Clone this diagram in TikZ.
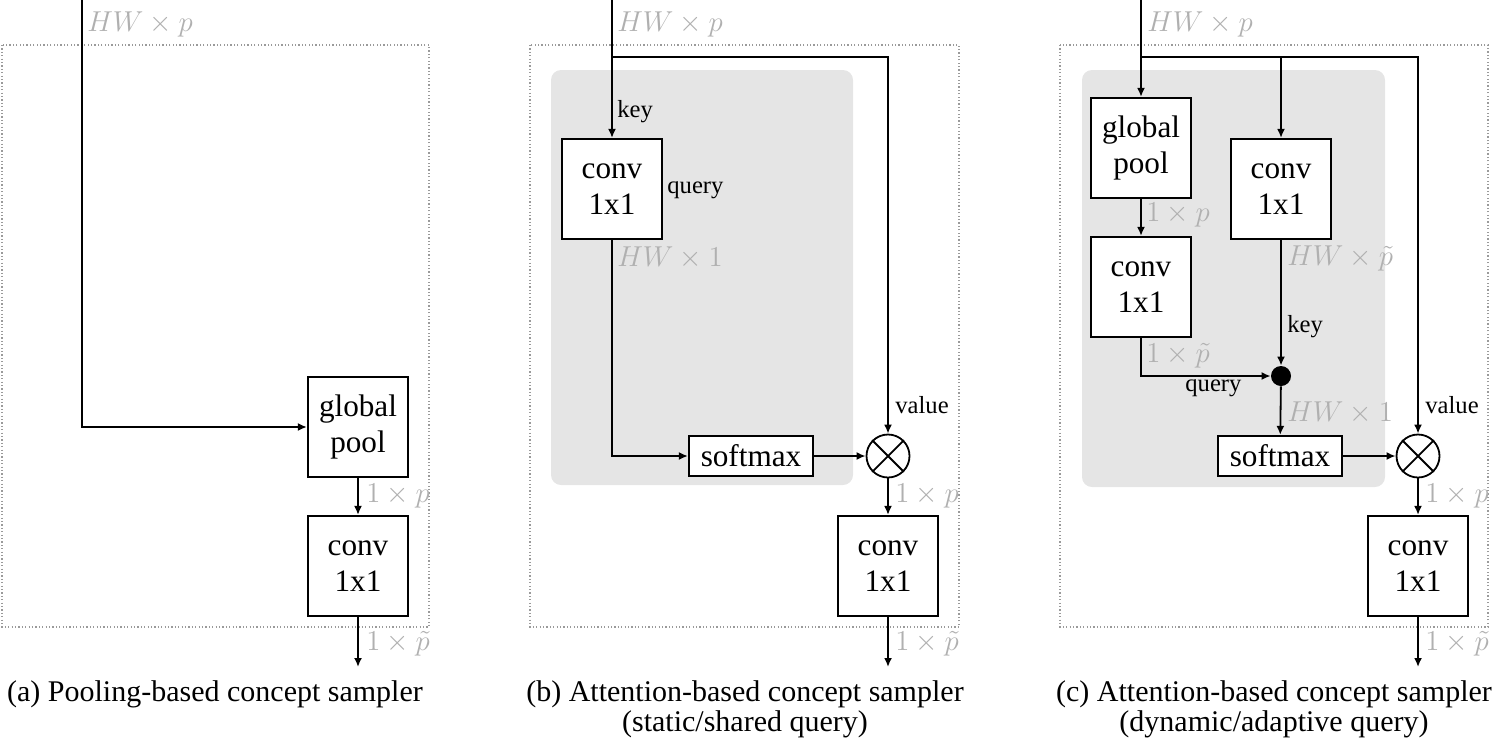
\documentclass[tikz,border=0pt]{standalone}
\usepackage{fontspec}
\setmainfont{Liberation Serif}
\definecolor{shade}{HTML}{E5E5E5}
\definecolor{faint}{HTML}{B0B0B0}
\definecolor{rim}{HTML}{9A9A9A}
\usetikzlibrary{arrows.meta,positioning,calc}
\tikzset{
  blk/.style={draw,line width=1.1pt,fill=white,align=center,minimum width=50pt,
              minimum height=50pt,inner sep=2pt,font=\fontsize{15.6}{18}\selectfont},
  smx/.style={blk,minimum width=62pt,minimum height=20pt,inner sep=0pt},
  prod/.style={draw,circle,line width=0.9pt,minimum size=21.5pt,inner sep=0pt,fill=white},
  joint/.style={circle,fill=black,minimum size=10pt,inner sep=0pt},
  arr/.style={-{Latex[length=4.5pt,width=4pt]},line width=0.9pt},
  dimlbl/.style={text=faint,font=\fontsize{13.5}{16}\selectfont,inner sep=0pt,anchor=west},
  lbl/.style={font=\fontsize{12.3}{14}\selectfont,inner sep=0pt,anchor=west},
  outer/.style={draw=rim,line width=0.6pt,dash pattern=on 0.6pt off 1.1pt},
  panel/.style={fill=shade,rounded corners=5pt},
  captxt/.style={font=\fontsize{15}{15}\selectfont,align=center,anchor=north}
}
\newcommand{\cross}[1]{\draw[line width=0.9pt] (#1.45) -- (#1.225) (#1.135) -- (#1.315);}

\begin{document}
\begin{tikzpicture}[x=0.5pt,y=-0.5pt]
  \useasboundingbox (0,0) rectangle (1497,740);

  % (a)
  \draw[outer] (2,45) rectangle (429,627);
  \node[blk] (poolA) at (358,427) {global\\pool};
  \node[blk] (convA) at (358,566) {conv\\1x1};
  \coordinate (inA) at (82,0);
  \coordinate (outA) at (358,667);
  \draw[arr] (inA) |- (poolA);
  \draw[arr] (poolA) -- (convA);
  \draw[arr] (convA) -- (outA);
  \node[dimlbl] (hwA) at (87,24) {$HW\times p$};
  \node[dimlbl] (pA) at (366,496) {$1\times p$};
  \node[dimlbl] (ptA) at (366,644) {$1\times \tilde{p}$};
  \node[captxt] (capA) at (215,674) {(a) Pooling-based concept sampler};

  % (b)
  \draw[outer] (530,45) rectangle (959,627);
  \fill[panel] (551,70) rectangle (853,485);
  \node[blk] (convB) at (612,189) {conv\\1x1};
  \node[smx] (smxB) at (751,456) {softmax};
  \node[prod] (prodB) at (888,456) {};
  \cross{prodB}
  \node[blk] (outconvB) at (888,566) {conv\\1x1};
  \coordinate (inB) at (612,0);
  \coordinate (brB) at (612,57);
  \coordinate (outB) at (888,667);
  \draw[arr] (inB) -- (convB);
  \draw[arr] (brB) -| (prodB);
  \draw[arr] (convB) |- (smxB);
  \draw[arr] (smxB) -- (prodB);
  \draw[arr] (prodB) -- (outconvB);
  \draw[arr] (outconvB) -- (outB);
  \node[dimlbl] (hwB) at (617,24) {$HW\times p$};
  \node[lbl] (keyB) at (617,112) {key};
  \node[lbl] (queryB) at (667,190) {query};
  \node[dimlbl] (hwoneB) at (617,258) {$HW\times 1$};
  \node[lbl] (valueB) at (895,405) {value};
  \node[dimlbl] (pB) at (895,496) {$1\times p$};
  \node[dimlbl] (ptB) at (895,644) {$1\times \tilde{p}$};
  \node[captxt] (capB) at (745,674) {(b) Attention-based concept sampler\\(static/shared query)};

  % (c)
  \draw[outer] (1060,45) rectangle (1488,627);
  \fill[panel] (1082,70) rectangle (1385,487);
  \node[blk] (poolC) at (1141,148) {global\\pool};
  \node[blk] (convC) at (1141,287) {conv\\1x1};
  \node[blk] (keyconvC) at (1281,189) {conv\\1x1};
  \node[joint] (dotC) at (1281,376) {};
  \node[smx] (smxC) at (1280,456) {softmax};
  \node[prod] (prodC) at (1418,456) {};
  \cross{prodC}
  \node[blk] (outconvC) at (1418,566) {conv\\1x1};
  \coordinate (inC) at (1141,0);
  \coordinate (brC) at (1141,57);
  \coordinate (outC) at (1418,667);
  \draw[arr] (inC) -- (poolC);
  \draw[arr] (brC) -| (prodC);
  \draw[arr] (keyconvC |- brC) -- (keyconvC);
  \draw[arr] (poolC) -- (convC);
  \draw[arr] (convC) |- (dotC);
  \draw[arr] (keyconvC) -- (dotC);
  \draw[arr] (dotC) -- (smxC);
  \draw[arr] (smxC) -- (prodC);
  \draw[arr] (prodC) -- (outconvC);
  \draw[arr] (outconvC) -- (outC);
  \node[dimlbl] (hwC) at (1147,24) {$HW\times p$};
  \node[dimlbl] (pC) at (1146,215) {$1\times p$};
  \node[dimlbl] (hwptC) at (1287,258) {$HW\times \tilde{p}$};
  \node[lbl] (keyC) at (1287,327) {key};
  \node[dimlbl] (ptC) at (1146,356) {$1\times \tilde{p}$};
  \node[lbl] (queryC) at (1185,388) {query};
  \node[dimlbl] (hwoneC) at (1287,413) {$HW\times 1$};
  \node[lbl] (valueC) at (1425,405) {value};
  \node[dimlbl] (poutC) at (1425,496) {$1\times p$};
  \node[dimlbl] (ptoutC) at (1425,644) {$1\times \tilde{p}$};
  \node[captxt] (capC) at (1274,674) {(c) Attention-based concept sampler\\(dynamic/adaptive query)};
\end{tikzpicture}
\end{document}
